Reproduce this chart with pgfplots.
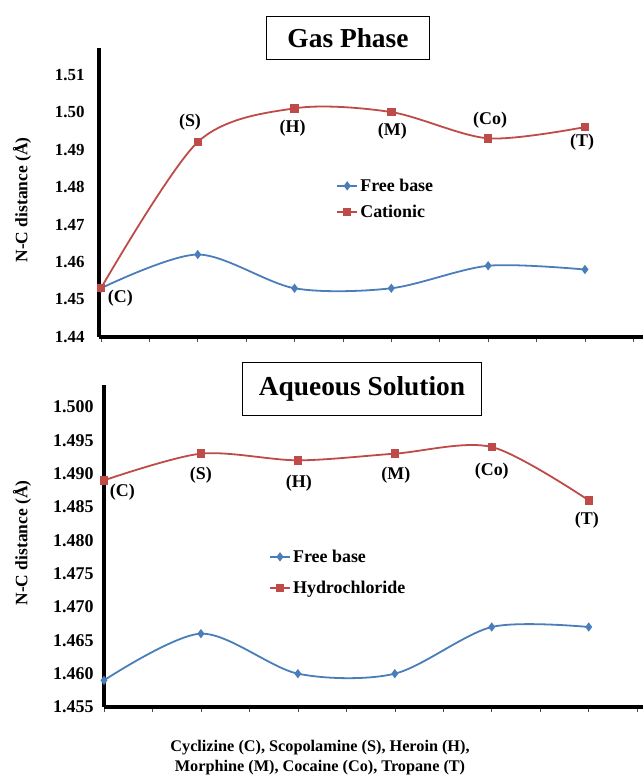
\documentclass[border=0pt]{standalone}
\usepackage{fontspec}
\setmainfont{Liberation Serif}
\usepackage{pgfplots}
\pgfplotsset{compat=1.18}
\definecolor{fb}{HTML}{4A7EBB}
\definecolor{ca}{HTML}{BE4B48}
\pgfplotsset{
  mystyle/.style={
    scale only axis,
    axis x line=bottom, axis y line=left,
    axis line style={line width=3.8bp,-},
    clip=false,
    /pgf/number format/assume math mode=true,
    xtick={0,0.5,...,5.5}, xticklabels={},
    x tick style={black!70, line width=0.6bp},
    y tick style={draw=none},
    tick align=outside,
    major tick length=5bp,
    legend cell align=left,
    legend image code/.code={\draw[mark repeat=2,mark phase=2,##1] plot coordinates {(0cm,0cm) (0.36cm,0cm) (0.72cm,0cm)};},
  },
  fbstyle/.style={color=fb, line width=1.8bp, smooth, mark=diamond*, mark size=3.2bp, mark options={fill=fb}},
  castyle/.style={color=ca, line width=1.8bp, smooth, mark=square*, mark size=3.3bp, mark options={fill=ca}},
}
\begin{document}
\begin{tikzpicture}
\path[use as bounding box] (0bp,0bp) rectangle (643bp,778bp);
% ---------------- Gas phase ----------------
\begin{axis}[mystyle,
  at={(99bp,441bp)}, anchor=south west,
  width=544bp, height=289bp,
  xmin=-0.02, xmax=5.60,
  ymin=1.44, ymax=1.5171,
  ytick={1.44,1.45,1.46,1.47,1.48,1.49,1.50,1.51},
  tick label style={font=\fontsize{17}{20}\selectfont\bfseries},
  yticklabel style={xshift=-6bp, /pgf/number format/.cd, fixed, fixed zerofill, precision=2},
  legend style={draw=none, fill=none, at={(0.43,0.5615)}, anchor=north west,
    font=\fontsize{18}{21}\selectfont\bfseries, row sep=8bp},
]
\addplot[fbstyle] coordinates {(0,1.453) (1,1.462) (2,1.453) (3,1.453) (4,1.459) (5,1.458)};
\addlegendentry{Free base}
\addplot[castyle] coordinates {(0,1.453) (1,1.492) (2,1.501) (3,1.500) (4,1.493) (5,1.496)};
\addlegendentry{Cationic}
\begin{scope}[font=\fontsize{18}{20}\selectfont\bfseries]
\node at (axis cs:0.20,1.4504) {(C)};
\node at (axis cs:0.92,1.4973) {(S)};
\node at (axis cs:1.98,1.4957) {(H)};
\node at (axis cs:3.01,1.4949) {(M)};
\node at (axis cs:4.02,1.4979) {(Co)};
\node at (axis cs:4.97,1.4920) {(T)};
\end{scope}
\end{axis}
% ---------------- Aqueous ----------------
\begin{axis}[mystyle,
  at={(104bp,71bp)}, anchor=south west,
  width=539bp, height=322bp,
  xmin=0, xmax=5.56,
  ymin=1.455, ymax=1.5033,
  ytick={1.455,1.460,1.465,1.470,1.475,1.480,1.485,1.490,1.495,1.500},
  tick label style={font=\fontsize{18}{20}\selectfont\bfseries},
  yticklabel style={xshift=-2bp, /pgf/number format/.cd, fixed, fixed zerofill, precision=3},
  legend style={draw=none, fill=none, at={(0.30,0.501)}, anchor=north west,
    font=\fontsize{18}{21}\selectfont\bfseries, row sep=13bp},
]
\addplot[fbstyle] coordinates {(0,1.459) (1,1.466) (2,1.460) (3,1.460) (4,1.467) (5,1.467)};
\addlegendentry{Free base}
\addplot[castyle] coordinates {(0,1.489) (1,1.493) (2,1.492) (3,1.493) (4,1.494) (5,1.486)};
\addlegendentry{Hydrochloride}
\begin{scope}[font=\fontsize{18}{20}\selectfont\bfseries]
\node at (axis cs:0.19,1.4872) {(C)};
\node at (axis cs:1.00,1.4898) {(S)};
\node at (axis cs:2.01,1.4886) {(H)};
\node at (axis cs:3.01,1.4898) {(M)};
\node at (axis cs:4.00,1.4904) {(Co)};
\node at (axis cs:4.98,1.4830) {(T)};
\end{scope}
\end{axis}
% titles
\node[draw, line width=1bp, minimum width=163bp, minimum height=43bp, font=\fontsize{27.5}{30}\selectfont\bfseries] at (348bp,740bp) {Gas Phase};
\node[draw, line width=1bp, fill=white, minimum width=239bp, minimum height=53bp, font=\fontsize{27.5}{30}\selectfont\bfseries] at (362bp,389bp) {Aqueous Solution};
% y labels
\node[rotate=90, font=\fontsize{17.5}{20}\selectfont\bfseries] at (22bp,578bp) {N-C distance (Å)};
\node[rotate=90, font=\fontsize{17.5}{20}\selectfont\bfseries] at (22bp,235bp) {N-C distance (Å)};
% caption
\node[align=center, font=\fontsize{16.3}{20}\selectfont\bfseries] at (320bp,20bp) {Cyclizine (C), Scopolamine (S), Heroin (H),\\Morphine (M), Cocaine (Co), Tropane (T)};
\end{tikzpicture}
\end{document}
